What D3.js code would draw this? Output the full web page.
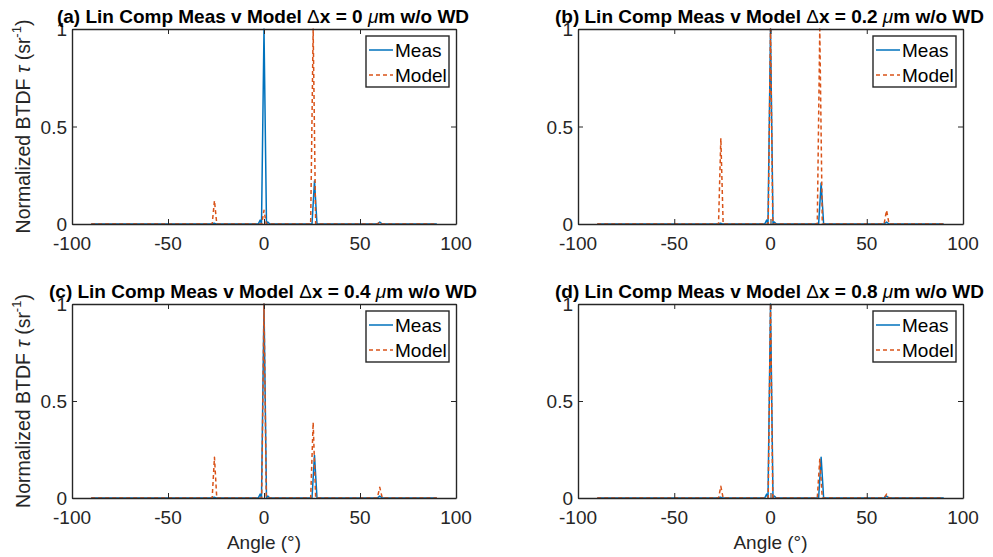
<!DOCTYPE html>
<html>
<head>
<meta charset="utf-8">
<script src="https://cdn.jsdelivr.net/npm/d3@7"></script>
<style>
  body { margin: 0; background: #fff; }
  svg { display: block; }
  text { font-family: "Liberation Sans", Arial, Helvetica, sans-serif; }
</style>
</head>
<body>
<svg id="chart" width="993" height="557"></svg>
<script>
// Panel labels and lateral shifts
const panelLetters = ["(a)", "(b)", "(c)", "(d)"];
const panelShifts = ["0", "0.2", "0.4", "0.8"];

// Axis ticks
const xTicks = [-100, -50, 0, 50, 100];
const yTicks = [0, 0.5, 1];
const yTickLabels = ["0", "0.5", "1"];
const seriesNames = ["Meas", "Model"];

// Measured normalized BTDF (angle in degrees)
const measAngle = [-90, -60, -27, -26, -25, -3, -2, -1.3, 0, 1.3, 2, 3, 25, 26.3, 27.6, 59, 60.3, 61.6, 90];
const measA = [0, 0, 0, 0.004, 0, 0, 0.02, 0, 1, 0, 0.01, 0, 0, 0.22, 0, 0, 0.01, 0, 0];
const measB = [0, 0, 0, 0.004, 0, 0, 0.02, 0, 1, 0, 0.01, 0, 0, 0.21, 0, 0, 0.01, 0, 0];
const measC = [0, 0, 0, 0.004, 0, 0, 0.02, 0, 1, 0, 0.01, 0, 0, 0.22, 0, 0, 0.01, 0, 0];
const measD = [0, 0, 0, 0.004, 0, 0, 0.02, 0, 1, 0, 0.01, 0, 0, 0.21, 0, 0, 0.01, 0, 0];

// Linear-model normalized BTDF
const modelAngle = [-90, -27, -25.8, -24.6, -1.2, 0, 1.2, 24.3, 25.6, 26.9, 59, 60.3, 61.6, 90];
const modelA = [0, 0, 0.12, 0, 0, 0.07, 0, 0, 1, 0, 0, 0.01, 0, 0];
const modelB = [0, 0, 0.44, 0, 0, 1, 0, 0, 1, 0, 0, 0.07, 0, 0];
const modelC = [0, 0, 0.21, 0, 0, 1, 0, 0, 0.39, 0, 0, 0.055, 0, 0];
const modelD = [0, 0, 0.06, 0, 0, 1, 0, 0, 0.20, 0, 0, 0.02, 0, 0];

const measSets = [measA, measB, measC, measD];
const modelSets = [modelA, modelB, modelC, modelD];

const BLUE = "#0072BD";
const ORANGE = "#D95319";
const AX = "#262626";

const svg = d3.select("#chart");

const frames = [
  { x0: 72, x1: 456, y0: 29, y1: 224 },
  { x0: 578, x1: 963, y0: 29, y1: 224 },
  { x0: 72, x1: 456, y0: 304, y1: 498 },
  { x0: 578, x1: 963, y0: 304, y1: 498 }
];

frames.forEach((f, i) => {
  const x = d3.scaleLinear().domain([-100, 100]).range([f.x0, f.x1]);
  const y = d3.scaleLinear().domain([0, 1]).range([f.y1, f.y0]);
  const g = svg.append("g");
  const tickLen = 5;

  // data lines
  const line = d3.line().x(d => x(d[0])).y(d => y(d[1]));
  const meas = measAngle.map((a, k) => [a, measSets[i][k]]);
  const model = modelAngle.map((a, k) => [a, modelSets[i][k]]);

  g.append("path").datum(meas).attr("d", line)
    .attr("fill", "none").attr("stroke", BLUE).attr("stroke-width", 1.5)
    .attr("stroke-linejoin", "round");
  g.append("path").datum(model).attr("d", line)
    .attr("fill", "none").attr("stroke", ORANGE).attr("stroke-width", 1.5)
    .attr("stroke-dasharray", "4,3").attr("stroke-linejoin", "round");

  // axes box with inward ticks
  const axB = d3.axisBottom(x).tickValues(xTicks).tickSizeInner(-tickLen).tickSizeOuter(0).tickFormat("");
  const axT = d3.axisTop(x).tickValues(xTicks).tickSizeInner(-tickLen).tickSizeOuter(0).tickFormat("");
  const axL = d3.axisLeft(y).tickValues(yTicks).tickSizeInner(-tickLen).tickSizeOuter(0).tickFormat("");
  const axR = d3.axisRight(y).tickValues(yTicks).tickSizeInner(-tickLen).tickSizeOuter(0).tickFormat("");
  [[axB, `translate(0,${f.y1})`], [axT, `translate(0,${f.y0})`],
   [axL, `translate(${f.x0},0)`], [axR, `translate(${f.x1},0)`]].forEach(([ax, tr]) => {
    const a = g.append("g").attr("transform", tr).call(ax);
    a.selectAll("path.domain").attr("stroke", AX).attr("stroke-width", 1.4);
    a.selectAll(".tick line").attr("stroke", AX).attr("stroke-width", 1);
  });

  // tick labels
  g.selectAll(".xl").data(xTicks).enter().append("text")
    .attr("x", d => x(d)).attr("y", f.y1 + 26)
    .attr("text-anchor", "middle").attr("font-size", 19).attr("fill", AX)
    .text(d => d);
  g.selectAll(".yl").data(yTicks).enter().append("text")
    .attr("x", f.x0 - 5).attr("y", d => y(d) + 7)
    .attr("text-anchor", "end").attr("font-size", 19).attr("fill", AX)
    .text((d, k) => yTickLabels[k]);

  // title
  const t = g.append("text").attr("x", (f.x0 + f.x1) / 2 - 1).attr("y", f.y0 - 6)
    .attr("text-anchor", "middle").attr("font-size", 19).attr("font-weight", "bold").attr("fill", "#000");
  t.append("tspan").text(`${panelLetters[i]} Lin Comp Meas v Model `);
  t.append("tspan").attr("font-weight", "normal").text("\u0394");
  t.append("tspan").text(`x = ${panelShifts[i]} `);
  t.append("tspan").attr("font-style", "italic").attr("font-weight", "normal").text("\u03bc");
  t.append("tspan").text("m w/o WD");

  // y label (left column only)
  if (i % 2 === 0) {
    const cy = (f.y0 + f.y1) / 2;
    const yl = g.append("text").attr("transform", `translate(30,${cy}) rotate(-90)`)
      .attr("text-anchor", "middle").attr("font-size", 19.5).attr("fill", AX);
    yl.append("tspan").text("Normalized BTDF ");
    yl.append("tspan").attr("font-style", "italic").text("\u03c4");
    yl.append("tspan").text(" (sr");
    yl.append("tspan").attr("font-size", 13).attr("dy", -9).text("-1");
    yl.append("tspan").attr("dy", 9).text(")");
  }
  // x label (bottom row only)
  if (i >= 2) {
    g.append("text").attr("x", (f.x0 + f.x1) / 2).attr("y", f.y1 + 51)
      .attr("text-anchor", "middle").attr("font-size", 19).attr("fill", AX)
      .text("Angle (\u00b0)");
  }

  // legend
  const lx = f.x1 - 90, ly = f.y0 + 7;
  const lg = g.append("g");
  lg.append("rect").attr("x", lx).attr("y", ly).attr("width", 83).attr("height", 51)
    .attr("fill", "#fff").attr("stroke", AX).attr("stroke-width", 1.4);
  seriesNames.forEach((nm, k) => {
    const yy = ly + 14 + k * 25;
    lg.append("line").attr("x1", lx + 3).attr("x2", lx + 27).attr("y1", yy).attr("y2", yy)
      .attr("stroke", k === 0 ? BLUE : ORANGE).attr("stroke-width", 1.5)
      .attr("stroke-dasharray", k === 0 ? null : "4,3");
    lg.append("text").attr("x", lx + 29).attr("y", yy + 7).attr("font-size", 19).attr("fill", "#000").text(nm);
  });
});
</script>
</body>
</html>
